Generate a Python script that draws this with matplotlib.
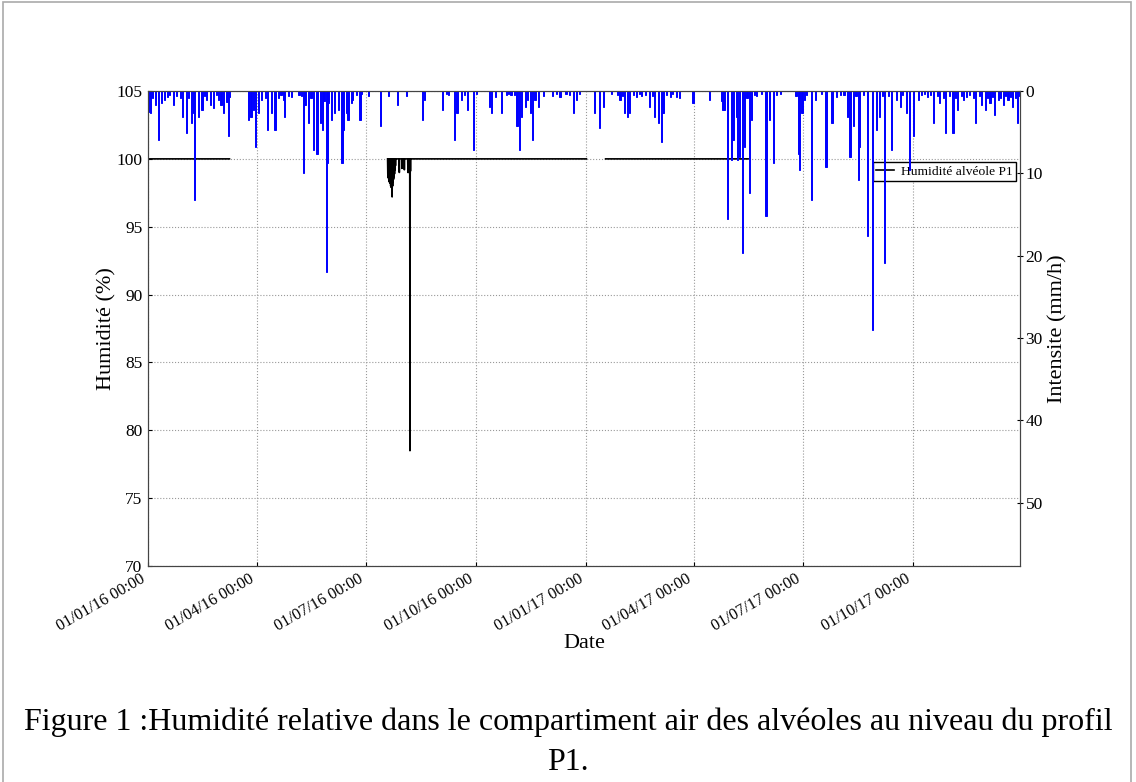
import datetime
import numpy as np
import matplotlib
matplotlib.use("Agg")
import matplotlib.pyplot as plt
import matplotlib.dates as mdates
from matplotlib.patches import Rectangle

plt.rcParams['font.family'] = ['Liberation Serif', 'DejaVu Serif']

startDate = datetime.datetime(2016, 1, 1)
endDay = 728

# humidity record (days since 01/01/2016, %), nan = no data
humDay = [0, 68, 68.5,
          200.0, 200.2, 200.4, 200.6, 200.8, 201.0, 201.2, 201.4, 201.6, 201.8,
          202.0, 202.2, 202.4, 202.6, 202.8, 203.0, 203.2, 203.4, 203.6, 203.8,
          204.0, 204.2, 204.4, 204.6, 204.8, 205.0, 205.2, 205.4, 205.6, 205.8,
          206.0, 206.2, 206.4, 206.6, 206.8, 207.0,
          209.6, 209.8, 210.0, 211.9, 212.0, 212.1, 213.9, 214.0, 214.1,
          216.8, 217.0, 217.2, 217.4, 217.6, 217.8, 218.0, 218.2, 218.5, 218.7,
          218.9, 219.1, 219.3,
          366, 366.5, 382, 501]
humValue = [100, 100, np.nan,
            100, 98.9, 100, 98.6, 100, 98.5, 100, 98.3, 100, 98.4,
            100, 98.2, 100, 98.0, 100, 97.9, 100, 98.1, 100, 97.2,
            100, 98.0, 100, 98.3, 100, 98.5, 100, 98.7, 100, 98.9,
            100, 99.2, 100, 99.5, 100, 100,
            100, 99.0, 100, 100, 99.3, 100, 100, 99.2, 100,
            100, 99.0, 100, 99.1, 100, 99.0, 100, 99.2, 100, 78.5,
            100, 99.1, 100,
            100, np.nan, 100, 100]

# rainfall intensity (days since 01/01/2016, mm/h)
rainDay = [0, 2, 4, 6, 9, 11, 14, 16, 18, 21, 24, 27, 29, 32, 34, 36, 38, 39, 42, 45,
           47, 49, 52, 55, 57, 59, 61, 63, 66, 67, 68,
           84, 86, 88, 90, 92, 95, 98, 100, 103, 106, 109, 111, 113, 114, 117, 120,
           126, 128, 130, 131, 134, 136, 138, 141, 144, 146, 147, 149, 150, 151, 153,
           156, 159, 162, 163, 166, 167, 170, 171, 174, 177, 178, 184, 194, 201, 208,
           216, 229, 231,
           246, 249, 251, 256, 258, 262, 264, 267, 272, 274, 285, 287, 290, 295, 299,
           301, 303, 306, 308, 310, 312, 315, 317, 319, 321, 323, 326, 330, 338, 341,
           344, 349, 352, 355, 358, 360, 373, 377, 380, 387, 392, 394, 396, 398, 400,
           402, 405, 408, 410, 412, 415, 419, 421, 423, 426, 429, 430, 433, 436, 438,
           441, 444, 455, 469, 479, 480, 481,
           484, 487, 488, 489, 491, 492, 494, 496, 498, 500, 502, 504, 506, 508, 512,
           516, 519, 522, 525, 528, 541, 543, 544, 546, 548, 550, 554, 557, 562, 566,
           571, 575, 578, 581, 584, 586, 589, 591, 593, 594, 597, 601, 605, 608, 611,
           613, 615, 618, 621, 625, 628, 630, 633, 636, 639, 643, 646, 648, 651, 653,
           656, 659, 661, 664, 666, 669, 672, 674, 676, 679, 681, 683, 686, 689, 691,
           694, 696, 699, 701, 703, 705, 707, 710, 712, 714, 716, 718, 720, 722, 724,
           726, 727]
rainMm = [2.5, 2.7, 0.8, 1.7, 6.0, 1.5, 1.1, 0.7, 0.5, 1.7, 0.6, 0.9, 3.1, 5.1, 0.8, 3.9, 2.7, 13.2, 3.1, 2.3,
          0.6, 1.1, 1.7, 2.1, 0.5, 1.1, 1.7, 2.7, 1.3, 5.5, 0.7,
          3.5, 3.1, 2.3, 6.8, 2.7, 1.1, 0.9, 4.7, 2.7, 4.7, 0.9, 0.5, 1.1, 3.1, 0.6, 0.7,
          0.5, 0.6, 10.0, 1.7, 3.9, 0.8, 7.2, 7.6, 3.9, 4.7, 1.2, 22.0, 8.8, 1.5, 3.5,
          2.7, 2.3, 8.8, 4.7, 2.7, 3.5, 1.5, 1.1, 0.5, 3.5, 0.4, 0.6, 4.3, 0.6, 1.7,
          0.6, 3.5, 1.1,
          2.3, 0.4, 0.5, 6.0, 2.7, 1.1, 0.5, 2.3, 7.2, 0.4, 1.9, 2.7, 0.7, 2.7, 0.5,
          0.4, 0.5, 0.5, 4.3, 7.2, 3.1, 1.9, 1.1, 2.7, 6.0, 1.1, 1.9, 0.6, 0.6, 0.4,
          0.7, 0.4, 0.5, 2.7, 1.1, 0.4, 2.7, 4.5, 1.9, 0.4, 0.5, 1.1, 0.6, 2.7, 3.1,
          2.7, 0.5, 0.7, 0.4, 0.6, 0.5, 1.9, 0.6, 3.1, 3.9, 6.2, 2.7, 0.5, 0.7, 0.4,
          0.7, 0.9, 1.5, 1.1, 1.2, 2.3, 2.3,
          15.6, 8.4, 6.0, 6.0, 3.1, 8.4, 8.0, 19.7, 6.8, 0.8, 12.4, 3.5, 0.5, 0.6, 0.4,
          15.2, 3.5, 8.8, 0.5, 0.4, 0.6, 7.6, 9.6, 2.7, 1.1, 0.5, 13.2, 1.1, 0.4, 9.2,
          3.9, 0.7, 0.5, 0.5, 3.1, 8.0, 4.3, 0.6, 10.8, 6.8, 0.5, 17.6, 29.0, 4.7, 3.1,
          0.6, 20.9, 0.6, 7.2, 1.1, 1.9, 0.5, 2.7, 9.6, 5.5, 1.1, 0.5, 0.4, 0.7, 0.5,
          3.9, 0.6, 1.5, 0.8, 5.1, 0.6, 5.1, 0.9, 2.3, 0.6, 1.1, 0.7, 0.5, 0.8, 3.9,
          0.6, 1.7, 2.3, 0.9, 1.5, 0.7, 2.9, 1.1, 0.8, 1.7, 0.6, 1.1, 0.7, 1.9, 0.8,
          3.9, 0.6]

humDates = [startDate + datetime.timedelta(days=d) for d in humDay]
rainDates = [startDate + datetime.timedelta(days=d) for d in rainDay]

fig = plt.figure(figsize=(11.36, 7.82), dpi=100)
ax = fig.add_axes([0.1303, 0.2762, 0.7676, 0.6074])

ax.plot(humDates, humValue, color='k', linewidth=1.2, label="Humidité alvéole P1")
ax.set_ylim(70, 105)
ax.set_yticks(np.arange(70, 106, 5))
ax.set_xlim(startDate, startDate + datetime.timedelta(days=endDay))
ax.xaxis.set_major_locator(mdates.MonthLocator(bymonth=[1, 4, 7, 10]))
ax.xaxis.set_major_formatter(mdates.DateFormatter('%d/%m/%y %H:%M'))
ax.grid(True, linestyle=':', color='#999999', linewidth=0.8)
ax.set_ylabel("Humidité (%)", fontsize=16, labelpad=0)
ax.set_xlabel("Date", fontsize=16, labelpad=0)
ax.tick_params(axis='y', labelsize=12.5, direction='in', length=3, pad=4)
ax.tick_params(axis='x', labelsize=11.7, direction='in', length=3)
for label in ax.get_xticklabels():
    label.set_rotation(30)
    label.set_horizontalalignment('right')

ax.legend(loc='upper right', bbox_to_anchor=(0.995, 0.85), fontsize=9.7,
          fancybox=False, edgecolor='k', framealpha=1, borderpad=0.25,
          handlelength=1.3, handletextpad=0.5, borderaxespad=0)

ax2 = ax.twinx()
ax2.bar(rainDates, rainMm, width=1.0, color='b', edgecolor='b', linewidth=0.7)
ax2.set_ylim(57.7, 0)
ax2.set_yticks(np.arange(0, 51, 10))
ax2.set_ylabel("Intensite (mm/h)", fontsize=16, labelpad=4)
ax2.tick_params(labelsize=12.5, direction='inout', length=4, pad=2)

for a in (ax, ax2):
    for s in a.spines.values():
        s.set_color('#444444')

fig.text(0.5, 1 - 722 / 782,
         "Figure 1 :Humidité relative dans le compartiment air des alvéoles au niveau du profil",
         ha='center', va='center', fontsize=23)
fig.text(0.5, 1 - 762 / 782, "P1.", ha='center', va='center', fontsize=23)

fig.patches.append(Rectangle((0.003, -0.05), 0.993, 1.047, transform=fig.transFigure,
                             fill=False, edgecolor='#aaaaaa', linewidth=1.2))

fig.savefig('out.png', dpi=100)
